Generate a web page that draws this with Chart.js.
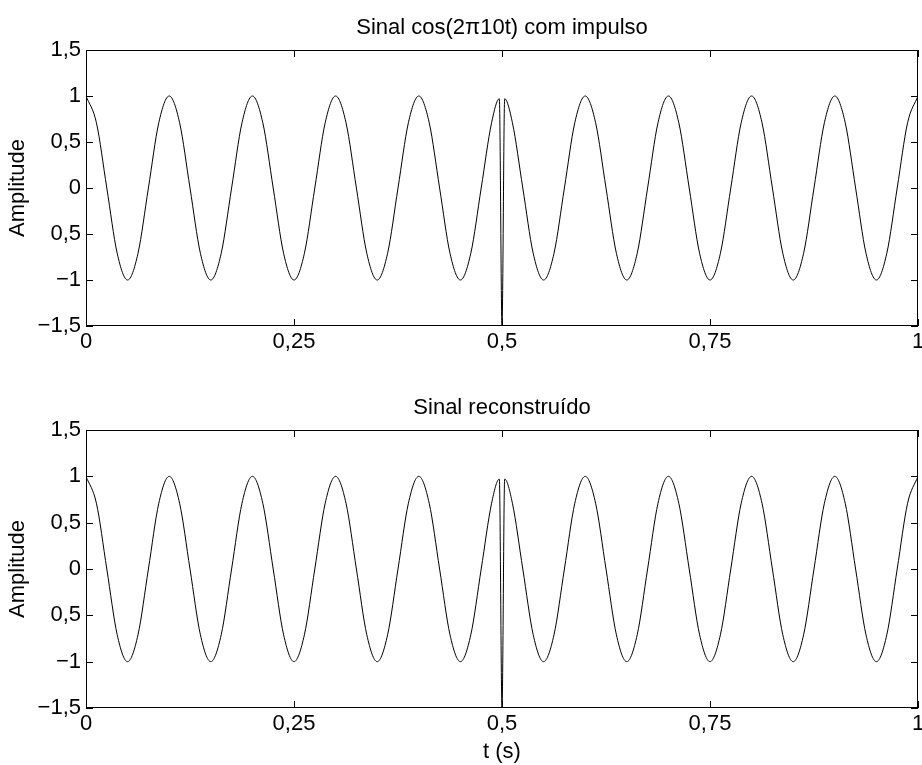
<!DOCTYPE html>
<html>
<head>
  <title>Sinal com impulso</title>
  <script src="https://cdn.jsdelivr.net/npm/chart.js"></script>
  <style>
    body { margin: 0; background: #fff; }
    canvas { display: block; }
  </style>
</head>
<body>
  <div style="position: relative; width: 922px; height: 765px;">
    <canvas id="top" width="922" height="380" style="position: absolute; left: 0; top: 0;"></canvas>
    <canvas id="bottom" width="922" height="385" style="position: absolute; left: 0; top: 380px;"></canvas>
  </div>
  <script>
    // time axis (s); extra samples around the impulse at 0.5 s
    const tValues = [
      0, 0.0125, 0.025, 0.0375, 0.05, 0.0625, 0.075, 0.0875,
      0.1, 0.1125, 0.125, 0.1375, 0.15, 0.1625, 0.175, 0.1875,
      0.2, 0.2125, 0.225, 0.2375, 0.25, 0.2625, 0.275, 0.2875,
      0.3, 0.3125, 0.325, 0.3375, 0.35, 0.3625, 0.375, 0.3875,
      0.4, 0.4125, 0.425, 0.4375, 0.45, 0.4625, 0.475, 0.4875,
      0.4968, 0.5, 0.5032,
      0.5125, 0.525, 0.5375, 0.55, 0.5625, 0.575, 0.5875,
      0.6, 0.6125, 0.625, 0.6375, 0.65, 0.6625, 0.675, 0.6875,
      0.7, 0.7125, 0.725, 0.7375, 0.75, 0.7625, 0.775, 0.7875,
      0.8, 0.8125, 0.825, 0.8375, 0.85, 0.8625, 0.875, 0.8875,
      0.9, 0.9125, 0.925, 0.9375, 0.95, 0.9625, 0.975, 0.9875,
      1
    ];

    // top panel: cos(2*pi*10t) with impulse
    const signalAmp = [
      1, 0.71, 0, -0.71, -1, -0.71, 0, 0.71,
      1, 0.71, 0, -0.71, -1, -0.71, 0, 0.71,
      1, 0.71, 0, -0.71, -1, -0.71, 0, 0.71,
      1, 0.71, 0, -0.71, -1, -0.71, 0, 0.71,
      1, 0.71, 0, -0.71, -1, -0.71, 0, 0.71,
      0.97, -1.5, 0.97,
      0.71, 0, -0.71, -1, -0.71, 0, 0.71,
      1, 0.71, 0, -0.71, -1, -0.71, 0, 0.71,
      1, 0.71, 0, -0.71, -1, -0.71, 0, 0.71,
      1, 0.71, 0, -0.71, -1, -0.71, 0, 0.71,
      1, 0.71, 0, -0.71, -1, -0.71, 0, 0.71,
      1
    ];

    // bottom panel: reconstructed signal
    const reconAmp = [
      1, 0.71, 0, -0.71, -1, -0.71, 0, 0.71,
      1, 0.71, 0, -0.71, -1, -0.71, 0, 0.71,
      1, 0.71, 0, -0.71, -1, -0.71, 0, 0.71,
      1, 0.71, 0, -0.71, -1, -0.71, 0, 0.71,
      1, 0.71, 0, -0.71, -1, -0.71, 0, 0.71,
      0.97, -1.5, 0.97,
      0.71, 0, -0.71, -1, -0.71, 0, 0.71,
      1, 0.71, 0, -0.71, -1, -0.71, 0, 0.71,
      1, 0.71, 0, -0.71, -1, -0.71, 0, 0.71,
      1, 0.71, 0, -0.71, -1, -0.71, 0, 0.71,
      1, 0.71, 0, -0.71, -1, -0.71, 0, 0.71,
      1
    ];

    const xTickLabels = ['0', '0,25', '0,5', '0,75', '1'];
    const yTickLabels = ['\u22121,5', '\u22121', '0,5', '0', '0,5', '1', '1,5'];

    const FONT = { family: "'Liberation Sans', Arial, sans-serif", size: 22 };
    const TICK = 7;

    // matlab style box with inward ticks on all four sides
    const boxTicks = {
      id: 'boxTicks',
      afterDraw(chart) {
        const { ctx, chartArea: a, scales: { x, y } } = chart;
        ctx.save();
        ctx.strokeStyle = '#000';
        ctx.lineWidth = 1;
        ctx.strokeRect(a.left + 0.5, a.top + 0.5, a.right - a.left - 1, a.bottom - a.top - 1);
        ctx.beginPath();
        x.ticks.forEach(t => {
          const px = Math.round(x.getPixelForValue(t.value)) + 0.5;
          ctx.moveTo(px, a.bottom); ctx.lineTo(px, a.bottom - TICK);
          ctx.moveTo(px, a.top); ctx.lineTo(px, a.top + TICK);
        });
        y.ticks.forEach(t => {
          const py = Math.round(y.getPixelForValue(t.value)) + 0.5;
          ctx.moveTo(a.left, py); ctx.lineTo(a.left + TICK, py);
          ctx.moveTo(a.right, py); ctx.lineTo(a.right - TICK, py);
        });
        ctx.stroke();
        ctx.restore();
      }
    };

    function makeChart(id, titleText, values, xTitle, xHeight) {
      return new Chart(document.getElementById(id), {
        type: 'line',
        data: {
          datasets: [{
            data: tValues.map((t, i) => ({ x: t, y: values[i] })),
            borderColor: '#000',
            borderWidth: 1,
            pointRadius: 0,
            cubicInterpolationMode: 'monotone',
            fill: false
          }]
        },
        options: {
          responsive: false,
          animation: false,
          layout: { padding: { left: 0, right: 4, top: 0, bottom: 0 } },
          plugins: {
            legend: { display: false },
            tooltip: { enabled: false },
            title: {
              display: true,
              fullSize: false, // centre over the axes, not the canvas
              text: titleText,
              color: '#000',
              font: { ...FONT, weight: 'normal' },
              padding: { top: 15, bottom: 8.6 }
            }
          },
          scales: {
            x: {
              type: 'linear',
              min: 0, max: 1,
              grid: { display: false, drawTicks: false },
              border: { display: false },
              ticks: {
                stepSize: 0.25,
                color: '#000',
                font: FONT,
                padding: 3,
                maxRotation: 0,
                callback: (v, i) => xTickLabels[i]
              },
              title: {
                display: !!xTitle,
                text: xTitle || '',
                color: '#000',
                font: FONT,
                padding: { top: 0, bottom: 0 }
              },
              afterFit(s) {
                s.height = xHeight;
                s.paddingLeft = 0;
                s.paddingRight = 0;
              }
            },
            y: {
              min: -1.5, max: 1.5,
              grid: { display: false, drawTicks: false },
              border: { display: false },
              ticks: {
                stepSize: 0.5,
                color: '#000',
                font: FONT,
                padding: 5,
                callback: (v, i) => yTickLabels[i]
              },
              title: {
                display: true,
                text: 'Amplitude',
                color: '#000',
                font: FONT,
                padding: { top: 5, bottom: 0 }
              },
              afterFit(s) { s.width = 86; }
            }
          }
        },
        plugins: [boxTicks]
      });
    }

    makeChart('top', 'Sinal cos(2\u03c010t) com impulso', signalAmp, null, 54);
    makeChart('bottom', 'Sinal reconstru\u00eddo', reconAmp, 't (s)', 57);
  </script>
</body>
</html>
